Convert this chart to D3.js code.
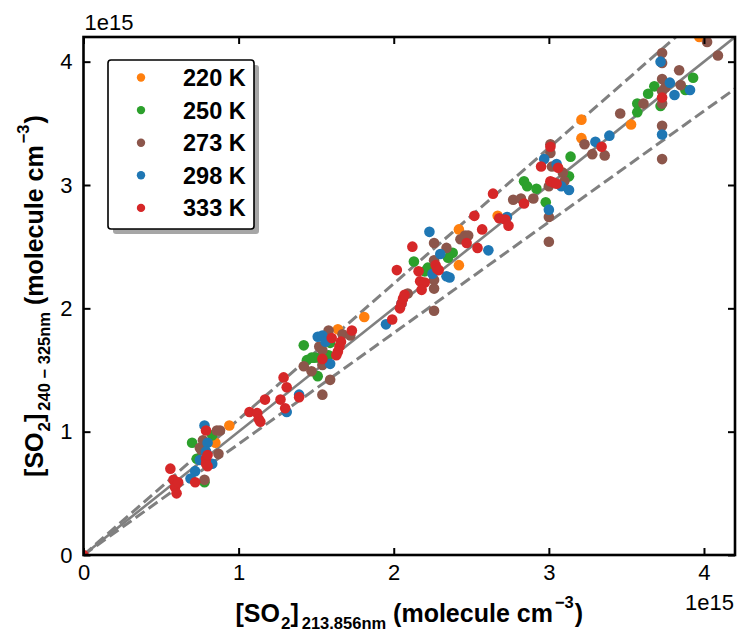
<!DOCTYPE html>
<html>
<head>
<meta charset="utf-8">
<script src="https://cdn.jsdelivr.net/npm/d3@7"></script>
<style>
  html, body { margin: 0; padding: 0; background: #fff; }
  svg { display: block; font-family: "Liberation Sans", Arial, sans-serif; }
</style>
</head>
<body>
<svg id="chart" width="740" height="636"></svg>
<script>
// ---- data (units of 1e15 molecule cm^-3) ----
const seriesNames = ["220 K", "250 K", "273 K", "298 K", "333 K"];
const seriesColors = ["#ff7f0e", "#2ca02c", "#8c564b", "#1f77b4", "#d62728"];
const tickValues = [0, 1, 2, 3, 4];
const fitSlopes = [1.0, 1.1, 0.9];

const t220 = [[0.94,1.05],[0.85,0.91],[1.81,1.93],[1.64,1.83],[2.42,2.64],[2.42,2.35],[2.67,2.75],
  [3.21,3.53],[3.21,3.38],[3.53,3.49],[3.97,4.20]];
const t250 = [[0.70,0.91],[0.73,0.78],[0.78,0.59],[0.83,0.97],[1.42,1.70],[1.44,1.58],[1.47,1.60],
  [1.49,1.60],[1.52,1.60],[1.58,1.62],[1.51,1.45],[1.59,1.72],[2.13,2.38],[2.38,2.45],[2.35,2.41],
  [2.22,2.33],[2.20,2.30],[3.14,3.23],[3.13,3.07],[2.84,3.03],[2.86,2.99],[2.92,2.97],[2.98,2.86],
  [3.93,3.87],[3.68,3.80],[3.88,3.77],[3.64,3.74],[3.72,3.64],[3.57,3.66],[3.57,3.59]];
const t273 = [[0.75,0.87],[0.86,1.01],[0.88,1.01],[0.87,0.82],[0.78,0.61],[0.77,0.93],[0.76,0.85],
  [1.58,1.82],[1.52,1.69],[1.67,1.79],[1.72,1.78],[1.54,1.66],[1.42,1.53],[1.47,1.49],[1.59,1.42],
  [1.54,1.30],[1.54,1.54],[2.09,2.12],[2.26,1.98],[2.26,2.53],[2.34,2.49],[2.26,2.39],[2.26,2.23],
  [2.26,2.16],[2.43,2.56],[2.46,2.59],[2.48,2.59],[2.77,2.88],[2.82,2.89],[2.90,2.89],[3.01,3.33],
  [3.01,3.26],[3.02,3.15],[3.09,3.10],[3.10,3.03],[3.00,2.99],[3.00,2.74],[3.00,2.54],[3.23,3.33],
  [3.28,3.25],[3.36,3.24],[4.02,4.16],[4.09,4.05],[3.73,4.07],[3.73,3.99],[3.84,3.93],[3.73,3.86],
  [3.75,3.79],[3.73,3.76],[3.85,3.81],[3.73,3.66],[3.61,3.66],[3.46,3.58],[3.73,3.48],[3.73,3.21]];
const t298 = [[0.78,1.05],[0.80,0.91],[0.83,0.74],[0.72,0.68],[0.69,0.62],[0.79,0.84],[0.75,0.77],
  [1.51,1.77],[1.54,1.78],[1.56,1.73],[1.59,1.55],[1.39,1.30],[1.31,1.16],[1.95,1.87],[2.05,2.04],
  [2.23,2.62],[2.30,2.44],[2.25,2.28],[2.34,2.26],[2.36,2.25],[2.61,2.47],[2.73,2.74],[3.30,3.35],
  [3.39,3.40],[2.97,3.21],[3.05,3.17],[3.08,2.99],[3.13,2.96],[3.00,2.80],[3.72,4.00],[3.78,3.83],
  [3.91,3.77],[3.81,3.73],[3.73,3.41]];
const t333 = [[0.00,0.00],[0.56,0.70],[0.58,0.61],[0.59,0.55],[0.60,0.50],[0.61,0.59],[0.72,0.59],
  [0.79,1.01],[0.80,0.72],[0.79,0.78],[0.79,0.74],[0.80,0.81],[1.07,1.16],[1.12,1.15],[1.13,1.10],
  [1.14,1.08],[1.17,1.26],[1.27,1.26],[1.30,1.19],[1.29,1.44],[1.31,1.36],[1.39,1.28],[1.54,1.59],
  [1.60,1.76],[1.73,1.82],[1.66,1.73],[1.65,1.69],[1.64,1.65],[1.63,1.62],[1.99,1.91],[2.04,2.00],
  [2.05,2.04],[2.06,2.08],[2.07,2.11],[2.02,2.31],[2.12,2.50],[2.16,2.30],[2.27,2.35],[2.28,2.32],
  [2.29,2.31],[2.17,2.22],[2.20,2.21],[2.18,2.15],[2.47,2.53],[2.52,2.75],[2.57,2.64],[2.54,2.49],
  [2.64,2.93],[2.68,2.73],[2.72,2.72],[2.74,2.67],[3.01,3.31],[2.95,3.15],[3.06,3.14],[3.01,3.03],
  [3.03,3.02],[3.05,3.01],[2.84,2.85],[3.34,3.31],[3.73,3.71]];
const seriesData = [t220, t250, t273, t298, t333];

// ---- layout ----
const svg = d3.select("#chart");
const L = 83.5, R = 735, T = 37, B = 555;
const x = d3.scaleLinear().domain([0, 4.2]).range([L, R]);
const y = d3.scaleLinear().domain([0, 4.2]).range([B, T]);

svg.append("defs").append("clipPath").attr("id", "plotclip")
  .append("rect").attr("x", L).attr("y", T).attr("width", R - L).attr("height", B - T);

const plot = svg.append("g").attr("clip-path", "url(#plotclip)");

// reference lines
fitSlopes.forEach((s, i) => {
  plot.append("line")
    .attr("x1", x(0)).attr("y1", y(0))
    .attr("x2", x(4.2)).attr("y2", y(4.2 * s))
    .attr("stroke", "#808080")
    .attr("stroke-width", i === 0 ? 2.6 : 3)
    .attr("stroke-dasharray", i === 0 ? null : "11,5");
});

// points
seriesData.forEach((arr, i) => {
  plot.append("g").selectAll("circle").data(arr).join("circle")
    .attr("cx", d => x(d[0])).attr("cy", d => y(d[1]))
    .attr("r", 5.3).attr("fill", seriesColors[i]);
});

// axes
function styleAxis(g) {
  g.select(".domain").remove();
  g.selectAll(".tick line").attr("stroke", "#000").attr("stroke-width", 2);
  g.selectAll(".tick text").attr("font-size", "22px").attr("fill", "#000")
    .attr("font-family", '"Liberation Sans", Arial, sans-serif');
}
svg.append("g").attr("transform", `translate(0,${B})`)
  .call(d3.axisBottom(x).tickValues(tickValues).tickSize(-7).tickPadding(9).tickFormat(d3.format("d")))
  .call(styleAxis);
svg.append("g").attr("transform", `translate(${L},0)`)
  .call(d3.axisLeft(y).tickValues(tickValues).tickSize(-7).tickPadding(11).tickFormat(d3.format("d")))
  .call(styleAxis);
svg.append("g").attr("transform", `translate(0,${T})`)
  .call(d3.axisTop(x).tickValues(tickValues).tickSize(-7).tickFormat(""))
  .call(styleAxis);
svg.append("g").attr("transform", `translate(${R},0)`)
  .call(d3.axisRight(y).tickValues(tickValues).tickSize(-7).tickFormat(""))
  .call(styleAxis);

// frame
svg.append("rect").attr("x", L).attr("y", T).attr("width", R - L).attr("height", B - T)
  .attr("fill", "none").attr("stroke", "#000").attr("stroke-width", 2.6);

// offset texts
svg.append("text").attr("x", L + 1).attr("y", 30).attr("font-size", "22px").text("1e15");
svg.append("text").attr("x", R - 1).attr("y", 610).attr("font-size", "22px")
  .attr("text-anchor", "end").text("1e15");

// axis labels with sub/superscripts
function richLabel(t, parts) {
  parts.forEach(p => {
    t.append("tspan").attr("font-size", p.s).attr("dy", p.dy || 0).attr("dx", p.dx || 0).text(p.t);
  });
}
const xl = svg.append("text").attr("x", (L + R) / 2).attr("y", 622)
  .attr("text-anchor", "middle").attr("font-weight", "bold").attr("font-size", "25px");
richLabel(xl, [
  { t: "[SO", s: "25px" }, { t: "2", s: "17px", dy: 7, dx: 1 }, { t: "]", s: "25px", dy: -7 },
  { t: "213.856nm", s: "16.5px", dy: 7, dx: 3 }, { t: " (molecule cm", s: "25px", dy: -7 },
  { t: "\u22123", s: "16.5px", dy: -14, dx: 2 }, { t: ")", s: "25px", dy: 14, dx: 1 }
]);
const yl = svg.append("text").attr("transform", `translate(43,${(T + B) / 2}) rotate(-90)`)
  .attr("text-anchor", "middle").attr("font-weight", "bold").attr("font-size", "25px");
richLabel(yl, [
  { t: "[SO", s: "25px" }, { t: "2", s: "17px", dy: 7, dx: 1 }, { t: "]", s: "25px", dy: -7 },
  { t: "240 \u2212 325nm", s: "16.5px", dy: 7, dx: 3 }, { t: " (molecule cm", s: "25px", dy: -7 },
  { t: "\u22123", s: "16.5px", dy: -14, dx: 2 }, { t: ")", s: "25px", dy: 14, dx: 1 }
]);

// legend
const lg = svg.append("g");
const lx = 108, ly = 60, lw = 146, lh = 169;
lg.append("rect").attr("x", lx + 5).attr("y", ly + 5).attr("width", lw).attr("height", lh)
  .attr("rx", 3).attr("fill", "#a6a6a6");
lg.append("rect").attr("x", lx).attr("y", ly).attr("width", lw).attr("height", lh)
  .attr("rx", 3).attr("fill", "#fff").attr("stroke", "#000").attr("stroke-width", 1.6);
seriesNames.forEach((n, i) => {
  const cy = 77.5 + i * 32.6;
  lg.append("circle").attr("cx", 141).attr("cy", cy).attr("r", 4.2).attr("fill", seriesColors[i]);
  lg.append("text").attr("x", 183).attr("y", cy + 8.5).attr("font-size", "23.5px")
    .attr("font-weight", "bold").text(n);
});
</script>
</body>
</html>
